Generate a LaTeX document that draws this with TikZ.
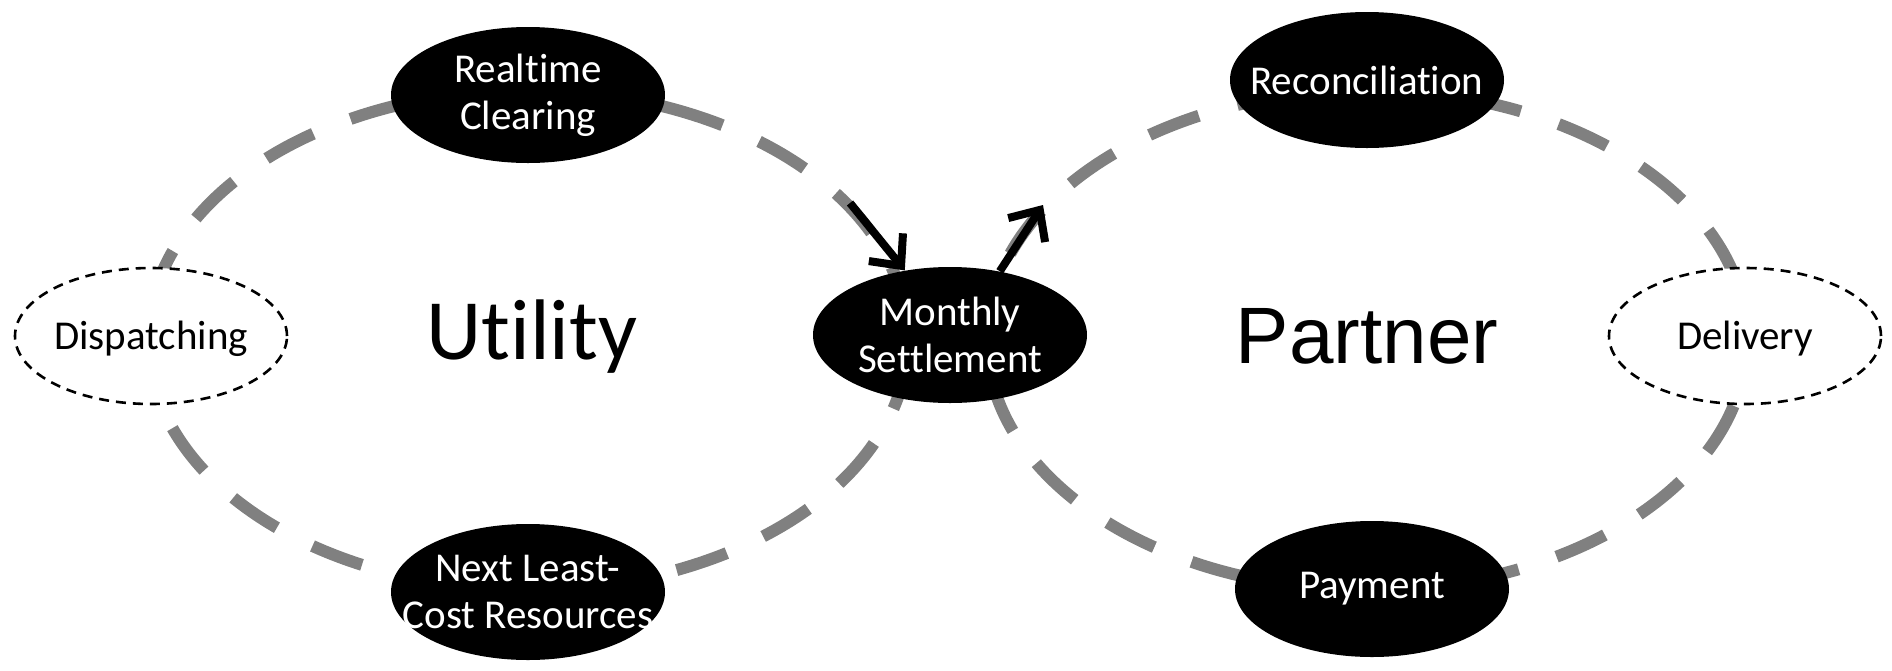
\documentclass[tikz,border=0pt]{standalone}
\usepackage{fontspec}
\setmainfont{Carlito}[Ligatures=NoCommon]
\newfontfamily\arialf{Liberation Sans}
\usetikzlibrary{shapes.geometric,arrows.meta}
\definecolor{loopgray}{RGB}{128,128,128}
\begin{document}
\begin{tikzpicture}[x=0.5pt,y=-0.5pt,
  loopline/.style={draw=loopgray, line width=6pt, dash pattern=on 26.5pt off 20pt},
  blackell/.style={ellipse, fill=black, minimum width=137pt, minimum height=68pt, inner sep=0pt},
  dashell/.style={ellipse, draw=black, fill=white, line width=1.3pt, dash pattern=on 5pt off 3.5pt, minimum width=136pt, minimum height=68pt, inner sep=0pt},
  wtext/.style={text=white, font=\fontsize{20.5}{23.5}\selectfont, align=center, inner sep=0pt},
  btext/.style={text=black, font=\fontsize{20.5}{23.5}\selectfont, align=center, inner sep=0pt},
  bigtext/.style={text=black, inner sep=0pt},
  arr/.style={draw=black, line width=4pt, -{Straight Barb[length=12pt, width=22pt]}}
]
\useasboundingbox (0,0) rectangle (1892,670);

% loop centres
\coordinate (lc) at (528,340);
\coordinate (rcn) at (1367,340);

% dashed grey loops
\draw[loopline] (lc) ++(-67.7:380 and 250) arc[start angle=-67.7, end angle=292.3, x radius=380, y radius=250];
\draw[loopline] (rcn) ++(-87.7:380 and 250) arc[start angle=-87.7, end angle=-447.7, x radius=380, y radius=250];

% nodes
\node[dashell] (disp) at (151,336) {};
\node[btext] (disp-t) at (151,339) {Dispatching};
\node[dashell] (deli) at (1745,336) {};
\node[btext] (deli-t) at (1745,339) {Delivery};

\node[blackell] (rt) at (528,95) {};
\node[wtext] (rt-t) at (rt) {Realtime\\Clearing};
\node[blackell] (nl) at (528,592) {};
\node[wtext] (nl-t) at (nl) {Next Least-\\Cost Resources};
\node[blackell] (ms) at (950,335) {};
\node[wtext] (ms-t) at (ms) {Monthly\\Settlement};
\node[blackell] (rec) at (1367,80) {};
\node[wtext] (rec-t) at (rec) {Reconciliation};
\node[blackell] (pay) at (1372,589) {};
\node[wtext] (pay-t) at (pay) {Payment};

\node[bigtext, font=\fontsize{43}{50}\selectfont] (util) at (532,337) {Utility};
\node[bigtext, font=\arialf\fontsize{40}{46}\selectfont] (part) at (1367,336) {Partner};

% arrows
\coordinate (a1s) at (850,203);
\coordinate (a2e) at (1043,205);
\draw[arr] (a1s) -- (ms.125);
\draw[arr] (ms.52) -- (a2e);
\end{tikzpicture}
\end{document}
